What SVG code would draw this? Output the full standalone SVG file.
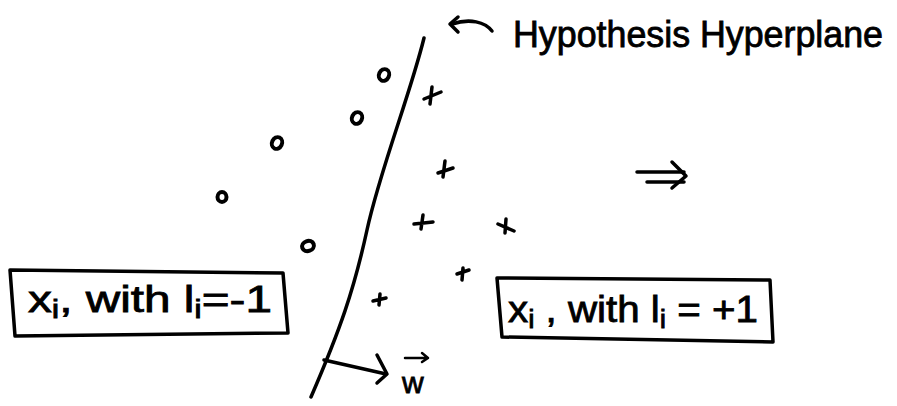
<svg xmlns="http://www.w3.org/2000/svg" width="897" height="406" viewBox="0 0 897 406">
<defs>
<style>
.ink{fill:none;stroke:#000;stroke-width:3.5;stroke-linecap:round;stroke-linejoin:round}
.thin{fill:none;stroke:#000;stroke-width:2.5;stroke-linecap:round;stroke-linejoin:round}
.o{fill:none;stroke:#000;stroke-width:4}
.hand{font-family:"Liberation Sans","DejaVu Sans",sans-serif;fill:#000;stroke:#000;stroke-width:0.8}
.sub{font-size:70%}
</style>
</defs>
<rect width="897" height="406" fill="#fff"/>

<g id="hyperplane">
<path class="ink" d="M424,38 C410,95 380,170 367,230 S340,330 311,397"/>
</g>

<g id="normal">
<path class="ink" d="M324,360 L386,374"/>
<path class="ink" d="M377,355 L387,374 L377,383"/>
<text class="hand" x="402" y="393" font-size="30">w</text>
<path class="thin" d="M405,358 L428,358 M422,353 L428,358 L422,362"/>
</g>

<g id="title">
<path class="ink" d="M492,31 C485,22 470,18 452,24"/>
<path class="ink" d="M458,17 L450,24 L458,32"/>
<text class="hand" x="513" y="47" font-size="36" textLength="370" lengthAdjust="spacingAndGlyphs">Hypothesis Hyperplane</text>
</g>

<g id="points-neg">
<ellipse class="o" cx="384" cy="75" rx="5" ry="6" transform="rotate(25 384 75)"/>
<ellipse class="o" cx="357" cy="118" rx="5" ry="6" transform="rotate(25 357 118)"/>
<ellipse class="o" cx="277" cy="143" rx="5" ry="6" transform="rotate(25 277 143)"/>
<ellipse class="o" cx="222" cy="197" rx="4.5" ry="5"/>
<ellipse class="o" cx="308" cy="246" rx="6" ry="5" transform="rotate(-20 308 246)"/>
</g>

<g id="points-pos">
<path class="ink" d="M424,99 L441,92 M432,87 L430,104"/>
<path class="ink" d="M438,173 L453,168 M445,161 L443,177"/>
<path class="ink" d="M414,224 L433,222 M423,215 L421,229"/>
<path class="ink" d="M498,224 L514,231 M506,219 L505,233"/>
<path class="ink" d="M457,274 L469,270 M463,268 L462,280"/>
<path class="ink" d="M373,301 L386,298 M380,294 L379,305"/>
</g>

<g id="implies">
<path class="ink" d="M637,172 L684,172 M647,182 L684,182"/>
<path class="ink" d="M672,162 L686,176 L672,188"/>
</g>

<g id="box-neg">
<path class="ink" d="M10,270 L283,273 L288,333 L15,336 Z"/>
<text class="hand" x="28" y="312" font-size="36" textLength="244" lengthAdjust="spacingAndGlyphs">x<tspan class="sub" dy="6">i</tspan><tspan dy="-6">, with l</tspan><tspan class="sub" dy="6">i</tspan><tspan dy="-6">=-1</tspan></text>
</g>

<g id="box-pos">
<path class="ink" d="M497,278 L770,280 L773,342 L502,337 Z"/>
<text class="hand" x="508" y="322" font-size="36" textLength="250" lengthAdjust="spacingAndGlyphs">x<tspan class="sub" dy="6">i</tspan><tspan dy="-6"> , with l</tspan><tspan class="sub" dy="6">i</tspan><tspan dy="-6"> = +1</tspan></text>
</g>
</svg>
